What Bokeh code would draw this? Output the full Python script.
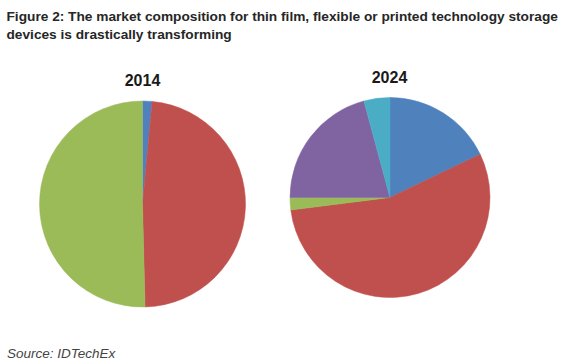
import numpy as np
from bokeh.plotting import figure
from bokeh.models import ColumnDataSource, Range1d, Label
from bokeh.embed import file_html
from bokeh.resources import INLINE

# Data
segments_2014 = ["Blue", "Red", "Green"]
shares_2014 = [1.5, 48.1, 50.4]
colors_2014 = ["#4F81BD", "#C0504D", "#9BBB59"]

segments_2024 = ["Blue", "Red", "Green", "Purple", "Teal"]
shares_2024 = [17.9, 55.1, 2.0, 20.8, 4.2]
colors_2024 = ["#4F81BD", "#C0504D", "#9BBB59", "#8064A2", "#4BACC6"]

title_lines = ["Figure 2: The market composition for thin film, flexible or printed technology storage",
               "devices is drastically transforming"]
pie_titles = ["2014", "2024"]
source_text = "Source: IDTechEx"

W, H = 569, 364
p = figure(width=W, height=H, output_backend="svg", toolbar_location=None,
           x_range=Range1d(0, W), y_range=Range1d(0, H), min_border=0)
p.axis.visible = False
p.grid.visible = False
p.outline_line_color = None
p.background_fill_color = "white"
p.border_fill_color = "white"


def pie_source(shares, colors, names):
    v = np.array(shares, dtype=float)
    frac = v / v.sum()
    cum = np.concatenate([[0], np.cumsum(frac)])
    start = np.pi / 2 - 2 * np.pi * cum[:-1]
    end = np.pi / 2 - 2 * np.pi * cum[1:]
    return ColumnDataSource(dict(name=names, start=start, end=end, color=colors))


def Y(y_page):
    return H - y_page


pies = [
    (pie_source(shares_2014, colors_2014, segments_2014), 142, Y(203.5), 103),
    (pie_source(shares_2024, colors_2024, segments_2024), 389.5, Y(197), 100),
]
for src, cx, cy, r in pies:
    p.wedge(x=cx, y=cy, radius=r, start_angle="start", end_angle="end",
            direction="clock", fill_color="color", line_color="color",
            line_width=0.5, source=src)

# pie titles
for txt, x, y in [(pie_titles[0], 142, Y(79.5)), (pie_titles[1], 389, Y(76))]:
    p.add_layout(Label(x=x, y=y, text=txt, text_font="Liberation Sans",
                       text_font_style="bold", text_font_size="16px",
                       text_color="#1a1a1a", text_align="center",
                       text_baseline="alphabetic"))

# figure title
for line, y in zip(title_lines, [15.5, 33.8]):
    p.add_layout(Label(x=6, y=Y(y), text=line, text_font="Liberation Sans",
                       text_font_style="bold", text_font_size="13.7px",
                       text_color="#262626", text_align="left",
                       text_baseline="alphabetic"))

p.add_layout(Label(x=6.5, y=Y(352.5), text=source_text, text_font="Liberation Sans",
                   text_font_style="italic", text_font_size="13.5px",
                   text_color="#444444", text_align="left",
                   text_baseline="alphabetic"))

open("out.html", "w").write(file_html(p, INLINE))
